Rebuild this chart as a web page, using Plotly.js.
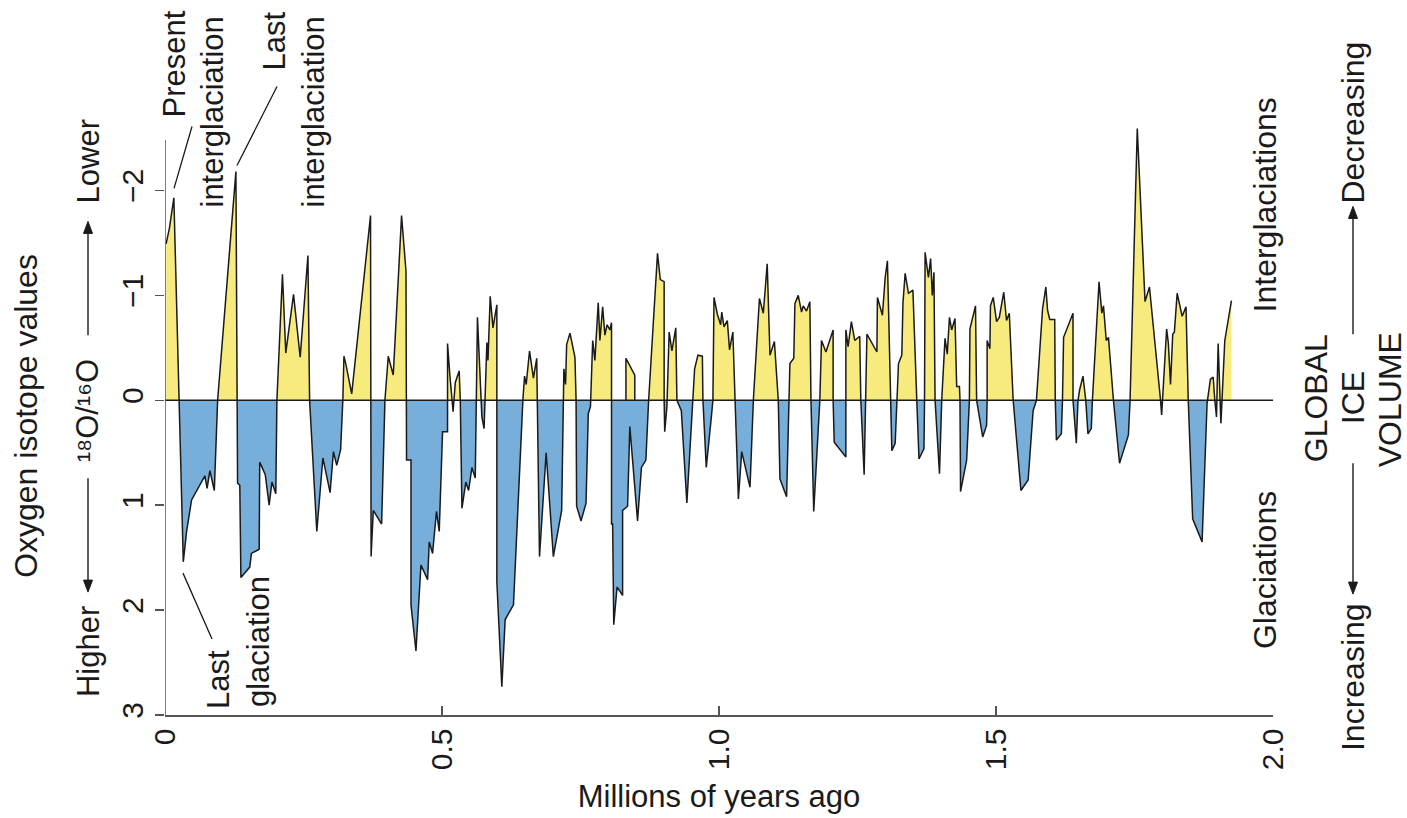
<!DOCTYPE html>
<html>
<head>
<meta charset="utf-8">
<script src="https://cdn.plot.ly/plotly-3.0.1.min.js"></script>
<style>
  html, body { margin: 0; padding: 0; background: #ffffff; }
  #chart { width: 1407px; height: 818px; }
</style>
</head>
<body>
<div id="chart"></div>
<script>
// ---- Data: age (millions of years ago) and oxygen isotope anomaly (18O/16O) ----
const ageMyr = [
  0.002, 0.008, 0.016, 0.026, 0.033, 0.039, 0.048, 0.072, 0.076, 0.081, 0.086, 0.089, 0.095,
  0.128, 0.131, 0.135, 0.137, 0.153, 0.156, 0.170, 0.171, 0.181, 0.188, 0.193, 0.200, 0.202,
  0.212, 0.218, 0.232, 0.244, 0.258, 0.261, 0.274, 0.285, 0.298, 0.304, 0.310, 0.317, 0.321,
  0.323, 0.327, 0.337, 0.371, 0.372, 0.376, 0.384, 0.391, 0.397, 0.403, 0.412, 0.427, 0.435,
  0.436, 0.436, 0.444, 0.444, 0.453, 0.462, 0.474, 0.477, 0.483, 0.490, 0.495, 0.501, 0.510,
  0.510, 0.514, 0.520, 0.524, 0.531, 0.533, 0.536, 0.543, 0.548, 0.554, 0.560, 0.564, 0.572,
  0.576, 0.581, 0.583, 0.587, 0.592, 0.599, 0.599, 0.608, 0.614, 0.629, 0.646, 0.649, 0.652,
  0.658, 0.665, 0.671, 0.672, 0.676, 0.688, 0.701, 0.716, 0.719, 0.720, 0.723, 0.725, 0.731,
  0.740, 0.742, 0.743, 0.751, 0.760, 0.764, 0.768, 0.772, 0.776, 0.782, 0.785, 0.790, 0.794,
  0.798, 0.803, 0.806, 0.806, 0.808, 0.810, 0.816, 0.826, 0.826, 0.835, 0.839, 0.853, 0.860,
  0.868, 0.873, 0.889, 0.894, 0.901, 0.901, 0.902, 0.906, 0.910, 0.915, 0.922, 0.924, 0.932,
  0.942, 0.953, 0.956, 0.962, 0.970, 0.971, 0.977, 0.986, 0.989, 0.991, 0.997, 1.003, 1.005,
  1.009, 1.015, 1.019, 1.025, 1.029, 1.035, 1.041, 1.056, 1.062, 1.073, 1.080, 1.087, 1.092,
  1.100, 1.107, 1.110, 1.122, 1.127, 1.128, 1.135, 1.137, 1.143, 1.149, 1.152, 1.158, 1.164,
  1.166, 1.171, 1.182, 1.185, 1.193, 1.206, 1.206, 1.208, 1.229, 1.229, 1.233, 1.239, 1.245,
  1.254, 1.256, 1.262, 1.265, 1.267, 1.285, 1.286, 1.295, 1.300, 1.304, 1.309, 1.312, 1.318,
  1.321, 1.324, 1.330, 1.332, 1.336, 1.342, 1.350, 1.354, 1.357, 1.361, 1.370, 1.371, 1.372,
  1.378, 1.382, 1.385, 1.388, 1.390, 1.398, 1.402, 1.408, 1.412, 1.416, 1.420, 1.426, 1.429,
  1.434, 1.435, 1.436, 1.447, 1.452, 1.453, 1.463, 1.465, 1.476, 1.483, 1.484, 1.484, 1.489,
  1.490, 1.495, 1.501, 1.506, 1.514, 1.519, 1.524, 1.531, 1.545, 1.558, 1.567, 1.573, 1.584,
  1.590, 1.593, 1.597, 1.606, 1.607, 1.609, 1.618, 1.620, 1.622, 1.639, 1.639, 1.645, 1.648,
  1.651, 1.657, 1.662, 1.666, 1.672, 1.674, 1.686, 1.691, 1.694, 1.699, 1.703, 1.712, 1.723,
  1.739, 1.742, 1.755, 1.769, 1.777, 1.797, 1.799, 1.808, 1.811, 1.815, 1.819, 1.822, 1.827,
  1.836, 1.843, 1.847, 1.855, 1.872, 1.881, 1.887, 1.892, 1.895, 1.898, 1.901, 1.906, 1.913,
  1.925
];
const d18O = [
  -1.49, -1.64, -1.93, 0.00, 1.54, 1.25, 0.95, 0.72, 0.84, 0.67, 0.78, 0.86, 0.00,
  -2.18, 0.79, 0.81, 1.69, 1.59, 1.46, 1.42, 0.59, 0.71, 1.00, 0.78, 0.89, 0.00,
  -1.20, -0.45, -1.01, -0.41, -1.38, 0.00, 1.25, 0.55, 0.88, 0.49, 0.62, 0.47, 0.00,
  -0.42, -0.33, -0.06, -1.76, 1.49, 1.05, 1.12, 1.18, 0.00, -0.42, -0.24, -1.76, -1.23,
  0.00, 0.57, 0.57, 1.95, 2.39, 1.57, 1.71, 1.35, 1.46, 1.06, 1.25, 0.30, 0.30,
  -0.54, -0.25, 0.11, -0.17, -0.28, 0.00, 1.03, 0.78, 0.86, 0.64, 0.74, -0.79, 0.16,
  0.27, -0.55, -0.38, -0.99, -0.69, -0.91, 1.73, 2.73, 2.09, 1.95, 0.00, -0.23, -0.15,
  -0.47, -0.21, -0.40, 0.00, 1.49, 0.50, 1.49, 1.05, 0.00, -0.30, -0.15, -0.53, -0.64,
  -0.41, 0.00, 1.01, 1.15, 0.98, 0.13, 0.06, -0.57, -0.38, -0.93, -0.57, -0.89, -0.62,
  -0.72, -0.67, -0.74, 1.18, 1.18, 2.14, 1.78, 1.86, 1.05, 1.01, 0.25, 1.15, 0.64,
  0.57, 0.00, -1.40, -1.15, -1.13, 0.00, 0.30, 0.06, -0.65, -0.47, -0.69, 0.00, 0.10,
  0.98, 0.00, -0.30, -0.43, -0.42, 0.00, 0.64, 0.17, 0.00, -0.98, -0.82, -0.72, -0.84,
  -0.70, -0.76, -0.48, -0.65, 0.00, 0.94, 0.49, 0.83, 0.00, -0.97, -0.83, -1.30, -0.43,
  -0.56, 0.00, 0.75, 0.92, 0.00, -0.35, -0.40, -0.92, -1.00, -0.84, -0.90, -0.85, -0.94,
  0.00, 1.06, 0.00, -0.57, -0.46, -0.67, 0.00, 0.40, 0.54, -0.67, -0.51, -0.75, -0.57,
  -0.61, 0.00, 0.71, 0.00, -0.63, -0.46, -0.98, -0.81, -1.17, -1.33, 0.00, 0.48, 0.41,
  0.00, -0.35, -0.43, -0.92, -1.21, -1.02, -1.05, -0.54, 0.00, 0.56, 0.46, 0.00, -1.41,
  -1.17, -1.35, -1.00, -1.22, 0.00, 0.70, 0.00, -0.59, -0.44, -0.79, -0.67, -0.78, -0.13,
  -0.13, 0.00, 0.87, 0.57, 0.00, -0.68, -0.90, 0.00, 0.35, 0.24, 0.00, -0.57, -0.49,
  -0.90, -0.98, -0.75, -0.79, -1.03, -0.76, -0.83, 0.00, 0.86, 0.76, 0.10, 0.00, -0.87,
  -1.08, -0.86, -0.77, -0.77, 0.00, 0.38, 0.32, 0.00, -0.60, -0.83, 0.00, 0.41, 0.00,
  -0.10, -0.23, 0.00, 0.32, 0.27, 0.00, -1.13, -0.83, -0.90, -0.57, -0.60, 0.00, 0.60,
  0.33, 0.00, -2.59, -0.94, -1.08, 0.00, 0.14, -0.68, -0.55, -0.15, -0.63, -0.65, -1.02,
  -0.80, -0.89, 0.00, 1.13, 1.35, 0.03, -0.20, -0.22, 0.00, 0.16, -0.54, 0.22, -0.57,
  -0.95
];
// small separate interglacial block drawn over the glacial near 0.83-0.85 Myr
const blockAge  = [0.832, 0.832, 0.848, 0.848];
const blockD18O = [0.00, -0.40, -0.24, 0.00];

// ---- Ticks ----
const xTickVals = [0, 0.5, 1.0, 1.5, 2.0];
const xTickText = ['0', '0.5', '1.0', '1.5', '2.0'];
const yTickVals = [-2, -1, 0, 1, 2, 3];
const yTickText = ['\u22122', '\u22121', '0', '1', '2', '3'];

// ---- Split the record into the part above zero (lower values) and below zero ----
function splitAtZero(xs, ys) {
  const up = {x: [], y: []}, down = {x: [], y: []};
  for (let i = 0; i < xs.length; i++) {
    if (i > 0) {
      const a = ys[i - 1], b = ys[i];
      if ((a < 0 && b > 0) || (a > 0 && b < 0)) {
        const t = a / (a - b);
        const xc = xs[i - 1] + t * (xs[i] - xs[i - 1]);
        up.x.push(xc); up.y.push(0);
        down.x.push(xc); down.y.push(0);
      }
    }
    up.x.push(xs[i]); up.y.push(Math.min(ys[i], 0));
    down.x.push(xs[i]); down.y.push(Math.max(ys[i], 0));
  }
  return {up, down};
}
const parts = splitAtZero(ageMyr, d18O);

const YELLOW = '#F7EB7E';
const BLUE = '#78AEDA';
const INK = '#1a1a1a';
const FONT = 'Liberation Sans, Arial, Helvetica, sans-serif';

// plot-area pixel frame (for placing labels)
const W = 1407, H = 818;
const L = 165, R = 1273, T = 116.5, B = 715;
const pX = px => (px - L) / (R - L);
const pY = py => (B - py) / (B - T);

const traces = [
  {x: parts.down.x, y: parts.down.y, type: 'scatter', mode: 'lines', fill: 'tozeroy',
   fillcolor: BLUE, line: {width: 0, color: BLUE}, hoverinfo: 'skip', showlegend: false},
  {x: parts.up.x, y: parts.up.y, type: 'scatter', mode: 'lines', fill: 'tozeroy',
   fillcolor: YELLOW, line: {width: 0, color: YELLOW}, hoverinfo: 'skip', showlegend: false},
  {x: blockAge, y: blockD18O, type: 'scatter', mode: 'lines', fill: 'toself',
   fillcolor: YELLOW, line: {width: 1.5, color: INK}, hoverinfo: 'skip', showlegend: false},
  {x: ageMyr, y: d18O, type: 'scatter', mode: 'lines', name: '18O/16O',
   line: {width: 1.5, color: INK}, showlegend: false}
];

function label(text, px, py, size) {
  return {text: text, x: pX(px), y: pY(py), xref: 'paper', yref: 'paper',
          showarrow: false, textangle: -90, xanchor: 'center', yanchor: 'middle',
          font: {family: FONT, size: size || 31, color: INK}};
}
function pline(x0, y0, x1, y1, w) {
  return {type: 'line', xref: 'paper', yref: 'paper', x0: pX(x0), y0: pY(y0),
          x1: pX(x1), y1: pY(y1), line: {color: INK, width: w || 1.3}};
}
// vertical arrow drawn as a line plus a filled triangular head
function vArrow(px, pyHead, pyTail) {
  const dir = pyTail > pyHead ? 1 : -1;   // +1: head points up
  const hl = 12, hw = 4.5;
  const base = pyHead + dir * hl;
  const path = 'M ' + pX(px) + ',' + pY(pyHead) +
               ' L ' + pX(px - hw) + ',' + pY(base) +
               ' L ' + pX(px + hw) + ',' + pY(base) + ' Z';
  return [
    pline(px, pyTail, px, base, 1.4),
    {type: 'path', xref: 'paper', yref: 'paper', path: path,
     fillcolor: INK, line: {color: INK, width: 1}}
  ];
}

const annotations = [
  label('Present', 175, 64),
  label('interglaciation', 213, 112),
  label('Last', 275, 41),
  label('interglaciation', 314, 112),
  label('Last', 218, 680),
  label('glaciation', 258, 642),
  label('Higher', 88, 652),
  label('\u00B9\u2078O/\u00B9\u2076O', 87, 411),
  label('Lower', 88, 161),
  label('Interglaciations', 1265, 205, 32),
  label('Glaciations', 1265, 570, 32),
  label('GLOBAL', 1316, 398, 32),
  label('ICE', 1353, 398, 32),
  label('VOLUME', 1390, 400, 32),
  label('Decreasing', 1353, 122, 32),
  label('Increasing', 1353, 677, 32)
];

const shapes = [
  // zero line
  {type: 'line', xref: 'x', yref: 'y', x0: 0, x1: 2.0, y0: 0, y1: 0,
   line: {color: INK, width: 1.5}},
  // left axis line (stops near the top tick)
  {type: 'line', xref: 'x', yref: 'y', x0: 0, x1: 0, y0: 3, y1: -2.48,
   line: {color: '#555', width: 1.5}},
  pline(192, 126, 174, 188),
  pline(277, 86, 237, 165),
  pline(183, 573, 212, 639)
].concat(
  vArrow(88, 592, 478),
  vArrow(88, 221, 335),
  vArrow(1353, 206, 334),
  vArrow(1353, 594, 463)
);

const layout = {
  width: W, height: H,
  margin: {l: L, r: W - R, t: T, b: H - B, pad: 0},
  paper_bgcolor: '#ffffff', plot_bgcolor: '#ffffff',
  font: {family: FONT, size: 30, color: INK},
  showlegend: false,
  xaxis: {
    range: [0, 2.0], tickvals: xTickVals, ticktext: xTickText, tickangle: -90,
    ticks: 'inside', ticklen: 9, tickwidth: 1.5, tickcolor: '#555',
    showline: true, linecolor: '#555', linewidth: 1.5, showgrid: false, zeroline: false,
    tickfont: {family: FONT, size: 30, color: INK},
    title: {text: 'Millions of years ago', font: {family: FONT, size: 31, color: INK}, standoff: 16},
    automargin: false, fixedrange: true
  },
  yaxis: {
    range: [3, -2.7], tickvals: yTickVals, ticktext: yTickText, tickangle: -90,
    ticks: 'outside', ticklen: 9, tickwidth: 1.5, tickcolor: '#555',
    showline: false, showgrid: false, zeroline: false,
    tickfont: {family: FONT, size: 30, color: INK},
    title: {text: 'Oxygen isotope values', font: {family: FONT, size: 32, color: INK}, standoff: 68},
    automargin: false, fixedrange: true
  },
  annotations: annotations,
  shapes: shapes
};

Plotly.newPlot('chart', traces, layout, {displayModeBar: false, staticPlot: true});
</script>
</body>
</html>
